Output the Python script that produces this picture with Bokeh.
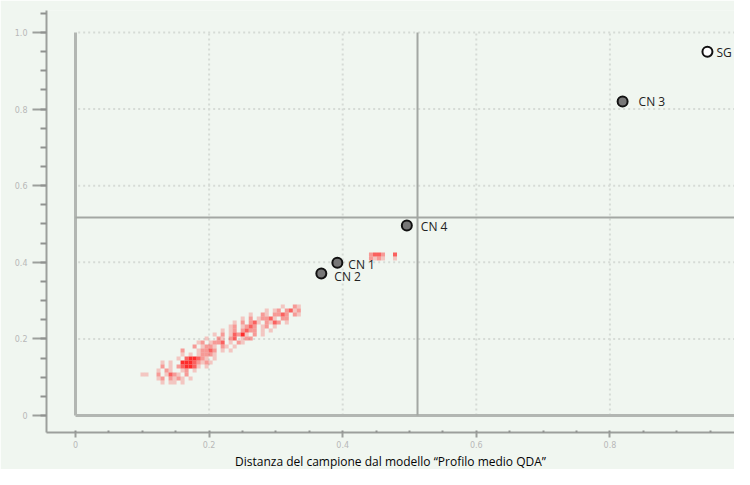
import numpy as np
from bokeh.plotting import figure
from bokeh.models import ColumnDataSource, FixedTicker, CustomJSTickFormatter, Title
from bokeh.core.properties import value
from bokeh.embed import file_html
from bokeh.resources import INLINE

# ---------------- data ----------------
sample_names = ["SG", "CN 3", "CN 4", "CN 1", "CN 2"]
dist_x = [0.946, 0.819, 0.496, 0.392, 0.368]
dist_y = [0.950, 0.820, 0.496, 0.399, 0.371]
sample_kind = ["ref", "cn", "cn", "cn", "cn"]

x_threshold = 0.512
y_threshold = 0.517

tick_values = [0, 0.2, 0.4, 0.6, 0.8, 1.0]
grid_values = [0.2, 0.4, 0.6, 0.8, 1.0]
x_title = "Distanza del campione dal modello \u201cProfilo medio QDA\u201d"

# density of the model's own profiles (binned): origin + bin size in data units
bin_x0 = 0.0973
bin_y0 = 0.2898
bin_w = 0.0060
bin_h = 0.01044
# (row, first column, intensity string); '.' = empty, 1..4 = density level
density_rows = [
    (-13, 57, "2332..3"),
    (-12, 57, "2121..1"),
    (0, 35, "1..21"),
    (1, 31, "1.12.2312"),
    (2, 27, "1..21.2232.21"),
    (3, 25, "1.2.12231.22"),
    (4, 23, "1.2.231.2132.1"),
    (5, 22, "12.1232.12.1"),
    (6, 20, "1.12.2322.1.1"),
    (7, 18, "1.2.13241.2.1"),
    (8, 16, "1..21.23.122"),
    (9, 14, "12.1223.1.21"),
    (10, 13, "2.1221.21.1"),
    (11, 10, "2...12232.1.1"),
    (12, 10, "1.1.12221"),
    (13, 9, "1.344321.1"),
    (14, 5, "1.1..44432121"),
    (15, 5, "2.1.234431.1"),
    (16, 4, "1.21..12.1"),
    (17, 0, "11..2.1321.2"),
    (18, 4, "12.2121.1"),
    (19, 5, "1.11.1"),
]

# ---------------- styles ----------------
bg = "#f0f6f0"
level_alpha = {"1": 0.22, "2": 0.42, "3": 0.68, "4": 0.92}
label_dx = [9, 16, 14, 11, 13]
label_dy = [1, 0, 1, 2, 3]

cx, cy, ca = [], [], []
for row, c0, pat in density_rows:
    for i, ch in enumerate(pat):
        if ch == ".":
            continue
        cx.append(bin_x0 + (c0 + i + 0.5) * bin_w)
        cy.append(bin_y0 - (row + 0.5) * bin_h)
        ca.append(level_alpha[ch])
cells = ColumnDataSource(dict(x=cx, y=cy, a=ca))

x_start, x_end = -0.0434, 0.9865
y_start, y_end = -0.0444, 1.0574

p = figure(width=734, height=469, output_backend="svg", toolbar_location=None,
           x_range=(x_start, x_end), y_range=(y_start, y_end),
           min_border_left=46, min_border_right=0, min_border_top=10,
           min_border_bottom=34)
p.background_fill_color = bg
p.border_fill_color = bg
p.outline_line_color = None
p.xgrid.grid_line_color = None
p.ygrid.grid_line_color = None

minor = [i * 0.05 for i in range(-1, 22)]
fmt = CustomJSTickFormatter(code="return tick == 0 ? '0' : tick.toFixed(1);")
for ax in (p.xaxis[0], p.yaxis[0]):
    ax.ticker = FixedTicker(ticks=tick_values, minor_ticks=minor)
    ax.formatter = fmt
    ax.axis_line_color = "#9c9f9c"
    ax.axis_line_width = 2
    ax.major_tick_line_color = "#9c9f9c"
    ax.major_tick_line_width = 2
    ax.minor_tick_line_color = "#8f928f"
    ax.minor_tick_line_width = 2
    ax.major_label_text_font = "DejaVu Sans"
    ax.major_label_text_font_size = "8px"
    ax.major_label_text_color = "#b8b8b8"

p.yaxis.major_tick_out = 14
p.yaxis.major_tick_in = 0
p.yaxis.minor_tick_out = 6
p.yaxis.minor_tick_in = 0
p.yaxis.major_label_standoff = 5

p.xaxis.major_tick_out = 5
p.xaxis.major_tick_in = 0
p.xaxis.minor_tick_out = 0
p.xaxis.minor_tick_in = 2
p.xaxis.major_label_standoff = 3

# x title stacked under the bottom axis
p.add_layout(Title(text=x_title, align="center", text_font="Open Sans",
                   text_font_size="12px", text_font_style="normal",
                   text_color="#050505", standoff=0, offset=0), "below")

# dotted grid
p.segment(x0=grid_values, y0=[0] * len(grid_values), x1=grid_values,
          y1=[1.0] * len(grid_values),
          line_color="#d6dbd6", line_width=2, line_dash="2 3")
p.segment(x0=[0.004] * len(grid_values), y0=grid_values,
          x1=[x_end] * len(grid_values), y1=grid_values,
          line_color="#d6dbd6", line_width=2, line_dash="2 3")

# inner zero lines
p.segment(x0=[0, 0], y0=[0, 0], x1=[0, x_end], y1=[1.0, 0],
          line_color="#b2b6b2", line_width=3)

# threshold cross
p.segment(x0=[x_threshold, 0], y0=[0, y_threshold],
          x1=[x_threshold, x_end], y1=[1.0, y_threshold],
          line_color="#a3a7a3", line_width=2)

# density cells
p.rect(x="x", y="y", width=bin_w, height=bin_h, source=cells,
       fill_color="#ff1a1a", fill_alpha="a", line_color=None)

# samples
fills = ["#ffffff" if k == "ref" else "#777777" for k in sample_kind]
src = ColumnDataSource(dict(x=dist_x, y=dist_y, name=sample_names,
                            fill=fills, dx=label_dx, dy=label_dy))
p.scatter(x="x", y="y", source=src, size=10, fill_color="fill",
          line_color="#111111", line_width=2)
p.text(x="x", y="y", text="name", source=src, x_offset="dx", y_offset="dy",
       text_font=value("Open Sans"), text_font_size="12px",
       text_color="#222222", text_baseline="middle", text_align="left")

open("out.html", "w").write(file_html(p, INLINE))
